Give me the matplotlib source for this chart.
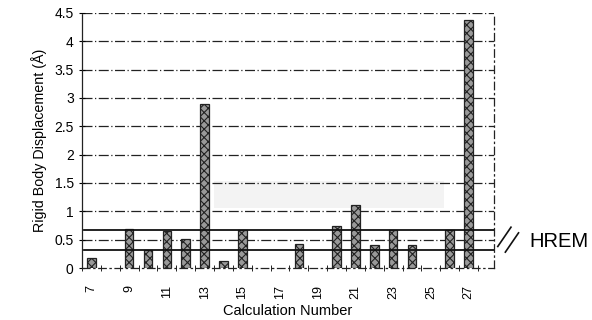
import numpy as np
import matplotlib.pyplot as plt
from matplotlib.patches import Rectangle

# calculation numbers and rigid body displacement (A)
calc = [7, 9, 10, 11, 12, 13, 14, 15, 18, 20, 21, 22, 23, 24, 26, 27]
disp = [0.18, 0.68, 0.32, 0.66, 0.51, 2.89, 0.13, 0.67, 0.42, 0.74, 1.12, 0.41, 0.67, 0.40, 0.67, 4.38]
hrem_band = [0.31, 0.67]
tick_labels = [str(n) for n in range(7, 28, 2)]
yticks = [0, 0.5, 1, 1.5, 2, 2.5, 3, 3.5, 4, 4.5]

plt.rcParams['font.family'] = ['Liberation Sans', 'DejaVu Sans']
plt.rcParams['hatch.linewidth'] = 0.8

fig = plt.figure(figsize=(5.92, 3.2), dpi=100)
ax = fig.add_axes([0.1385, 0.1625, 0.696, 0.797])

ax.set_xlim(6.58, 28.35)
ax.set_ylim(0, 4.5)

# faint grey smudge from the scan
ax.add_patch(Rectangle((13.5, 1.05), 12.2, 0.48, facecolor='#f3f3f3', edgecolor='none', zorder=0))

for y in yticks[1:]:
    ax.axhline(y, color='#222222', lw=0.9, ls=(0, (8, 2, 1, 2)), zorder=1)

ax.bar(calc, disp, width=0.45, facecolor='#999999', edgecolor='#222222',
       hatch='xxxx', linewidth=0.9, zorder=3)

# HREM band lines, extended past the right edge
for y in hrem_band:
    ax.plot([6.58, 28.35], [y, y], color='#111111', lw=1.3, zorder=4)

ax.spines['left'].set_linestyle((0, (1, 1)))
ax.spines['right'].set_linestyle((0, (6, 3, 1, 3)))
ax.spines['bottom'].set_linestyle((0, (6, 3, 1, 3)))
ax.spines['top'].set_visible(False)
for s in ['left', 'right', 'bottom']:
    ax.spines[s].set_linewidth(0.9)
    ax.spines[s].set_color('#222222')

ax.set_yticks(yticks)
ax.set_yticklabels(['0', '0.5', '1', '1.5', '2', '2.5', '3', '3.5', '4', '4.5'], fontsize=10)
ax.set_xticks(range(7, 28, 2))
ax.set_xticklabels(tick_labels, rotation=90, fontsize=9)
ax.set_xticks(np.arange(6.5, 28.5, 1), minor=True)
ax.tick_params(axis='x', which='major', length=0, pad=12)
ax.tick_params(axis='x', which='minor', length=4, direction='inout')
ax.tick_params(axis='y', length=4, direction='inout', pad=4)

ax.set_ylabel('Rigid Body Displacement (Å)', fontsize=10.3, labelpad=5)
ax.set_xlabel('Calculation Number', fontsize=10.5, labelpad=4)

# break marks and HREM label
ax.plot([28.55, 29.25], [0.38, 0.72], color='#111111', lw=1.2, clip_on=False)
ax.plot([28.95, 29.65], [0.28, 0.62], color='#111111', lw=1.2, clip_on=False)
ax.text(30.2, 0.47, 'HREM', fontsize=14.5, va='center', ha='left')

fig.savefig('out.png', dpi=100)
